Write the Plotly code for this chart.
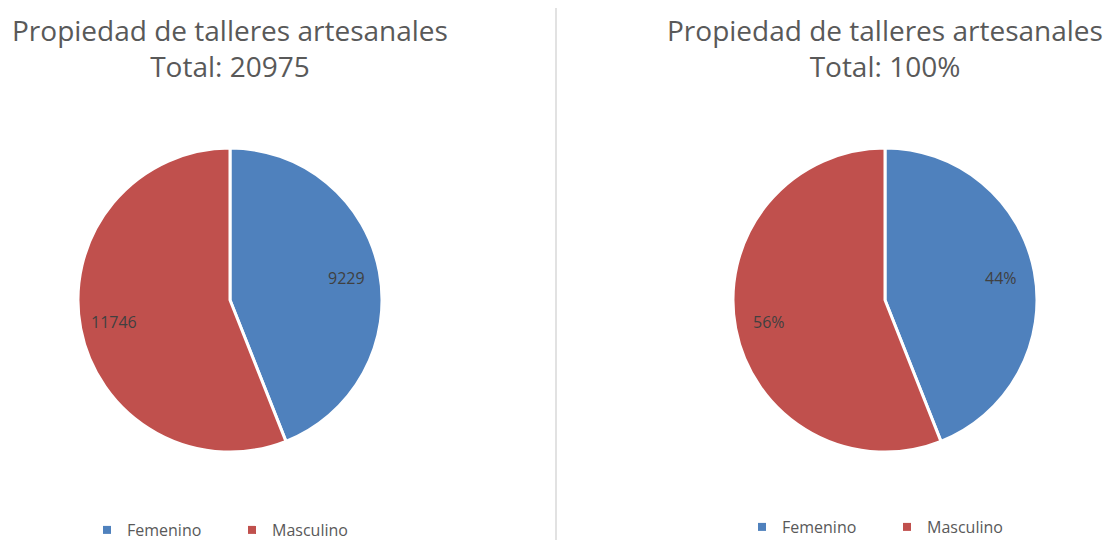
import math
import plotly.graph_objects as go

categories = ["Femenino", "Masculino"]
counts = [9229, 11746]
percents = [44, 56]
colors = ["#4F81BD", "#C0504D"]
title_line1 = "Propiedad de talleres artesanales"
title_line2 = ["Total: 20975", "Total: 100%"]

FONT = "'Open Sans', Lato, sans-serif"
GREY = "#595959"
W, H = 1107, 540

# layout geometry (pixels)
centers_x = [230, 885]
center_y = 300
radius = 152
label_frac = 0.78

fig = go.Figure()

series = [(counts, "%{value:.0f}", lambda v: f"{v:d}"),
          (percents, "%{value}%", lambda v: f"{v:d}%")]

for i, (vals, tmpl, fmt) in enumerate(series):
    cx = centers_x[i]
    fig.add_trace(go.Pie(
        labels=categories, values=vals, sort=False, direction="clockwise", rotation=0,
        marker=dict(colors=colors, line=dict(color="white", width=3)),
        textinfo="none", showlegend=False,
        domain=dict(x=[(cx - radius) / W, (cx + radius) / W],
                    y=[(H - center_y - radius) / H, (H - center_y + radius) / H]),
        hovertemplate="%{label}: " + tmpl + "<extra></extra>",
    ))
    # data labels placed along slice bisectors, computed from the values
    total = sum(vals)
    cum = 0
    for v in vals:
        theta = 2 * math.pi * (cum + v / 2) / total
        cum += v
        px = cx + label_frac * radius * math.sin(theta)
        py = center_y - label_frac * radius * math.cos(theta)
        fig.add_annotation(text=fmt(v), x=px / W, y=1 - py / H, xref="paper", yref="paper",
                           xanchor="center", yanchor="middle", showarrow=False,
                           font=dict(family=FONT, size=16, color="#404040"))
    # two-line title
    fig.add_annotation(text=title_line1 + "<br>" + title_line2[i], x=cx / W, y=1 - 48 / H,
                       xref="paper", yref="paper", align="center",
                       xanchor="center", yanchor="middle", showarrow=False,
                       font=dict(family=FONT, size=28, color=GREY))
    # legend entries
    for cat, col in zip(categories, colors):
        fig.add_trace(go.Scatter(
            x=[None], y=[None], mode="markers", name=cat,
            marker=dict(symbol="square", size=8, color=col),
            legend="legend" if i == 0 else "legend2", showlegend=True, hoverinfo="skip",
        ))

fig.add_shape(type="line", xref="paper", yref="paper", x0=556 / W, x1=556 / W,
              y0=0, y1=1 - 8 / H, line=dict(color="#D9D9D9", width=1.5))

legend_common = dict(orientation="h", yanchor="middle", xanchor="left",
                     xref="paper", yref="paper",
                     font=dict(family=FONT, size=16, color=GREY), entrywidth=100,
                     bgcolor="rgba(0,0,0,0)", itemclick=False, itemdoubleclick=False)
fig.update_layout(
    width=W, height=H, margin=dict(l=0, r=0, t=0, b=0, autoexpand=False),
    paper_bgcolor="white", plot_bgcolor="white",
    showlegend=True,
    xaxis=dict(visible=False), yaxis=dict(visible=False),
    legend=dict(x=87 / W, y=1 - 530 / H, **legend_common),
    legend2=dict(x=742 / W, y=1 - 527 / H, **legend_common),
)

fig.write_html("out.html", config={"displayModeBar": False},
               post_script="document.body.style.margin='0';document.body.style.overflow='hidden';")
